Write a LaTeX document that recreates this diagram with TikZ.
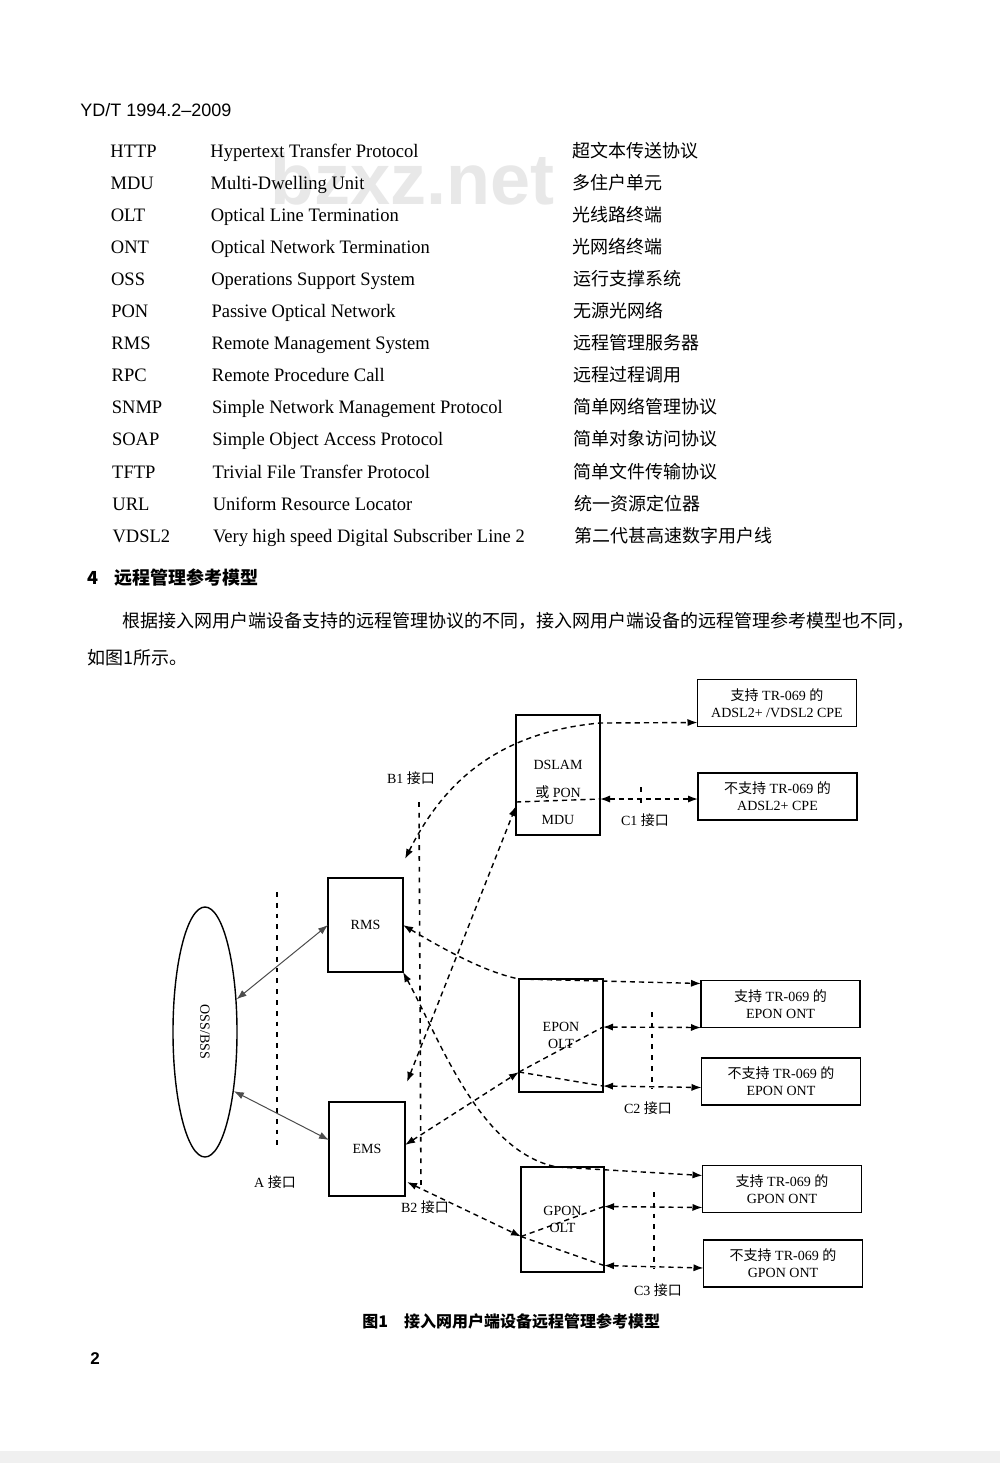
\documentclass[tikz,border=0pt]{standalone}
\usepackage{fontspec}
\setmainfont{Liberation Serif}
\newfontfamily\cjk{Noto Sans CJK SC}
\newfontfamily\hdrfont{Liberation Sans}
\newfontfamily\tabfont[FakeStretch=0.975]{Liberation Serif}
\usetikzlibrary{arrows.meta,shapes.geometric,calc}

\tikzset{
  box/.style={draw,line width=0.7pt,inner sep=0pt,outer sep=0pt,align=center,font=\fontsize{7}{8.5}\selectfont},
  cpebox/.style={box,minimum width=79.5pt,minimum height=23.5pt},
  lbl/.style={font=\fontsize{7}{8.5}\selectfont,inner sep=0pt},
  conn/.style={line width=0.7pt,dash pattern=on 2.6pt off 2pt},
  iface/.style={line width=0.8pt,dash pattern=on 2.4pt off 3pt},
  aline/.style={line width=0.5pt,black!70},
  tabtxt/.style={anchor=base west,inner sep=0pt,font=\tabfont\fontsize{9.5}{11}\selectfont},
  tabzh/.style={anchor=base west,inner sep=0pt,font=\cjk\fontsize{9}{11}\selectfont},
  cjktxt/.style={anchor=base west,inner sep=0pt,font=\cjk\fontsize{9}{11}\selectfont}
}

\begin{document}
\begin{tikzpicture}[x=0.5pt,y=-0.5pt,>={Latex[length=5pt,width=3.6pt]}]
  \useasboundingbox (0,0) rectangle (1000,1463);
  \fill[white] (0,0) rectangle (1000,1463);
  \fill[black!6] (0,1451) rectangle (1000,1463);
  % watermark and page text
  \node[anchor=base west,inner sep=0pt,text=black!9,font=\hdrfont\bfseries\fontsize{36}{40}\selectfont] (wm) at (270,204) {bzxz.net};
  \node[anchor=base west,inner sep=0pt,font=\hdrfont\fontsize{9}{11}\selectfont] (hdr) at (80,116) {YD/T 1994.2–2009};
  \foreach \ab/\en/\zh [count=\i from 0] in {
    HTTP/Hypertext Transfer Protocol/超文本传送协议,
    MDU/Multi-Dwelling Unit/多住户单元,
    OLT/Optical Line Termination/光线路终端,
    ONT/Optical Network Termination/光网络终端,
    OSS/Operations Support System/运行支撑系统,
    PON/Passive Optical Network/无源光网络,
    RMS/Remote Management System/远程管理服务器,
    RPC/Remote Procedure Call/远程过程调用,
    SNMP/Simple Network Management Protocol/简单网络管理协议,
    SOAP/Simple Object Access Protocol/简单对象访问协议,
    TFTP/Trivial File Transfer Protocol/简单文件传输协议,
    URL/Uniform Resource Locator/统一资源定位器,
    VDSL2/Very high speed Digital Subscriber Line 2/第二代甚高速数字用户线}{
    \node[tabtxt] (ab\i) at (110+0.18*\i,157+32.1*\i) {\ab};
    \node[tabtxt] (en\i) at (210+0.22*\i,157+32.1*\i) {\en};
    \node[tabzh] (zh\i) at (572+0.15*\i,157+32.1*\i) {\zh};
  }
  \node[cjktxt,font=\cjk\bfseries\fontsize{9}{11}\selectfont] (sec) at (87,584) {4\hspace{8pt}远程管理参考模型};
  \node[cjktxt] (par1) at (122,627) {根据接入网用户端设备支持的远程管理协议的不同，接入网用户端设备的远程管理参考模型也不同，};
  \node[cjktxt] (par2) at (87,664) {如图1所示。};

  % boxes
  \node[draw,ellipse,line width=0.7pt,minimum width=32pt,minimum height=125pt,inner sep=0pt] (oss) at (205,1032) {};
  \node[lbl,rotate=-90] (osst) at (oss) {OSS/BSS};
  \node[box,minimum width=37.5pt,minimum height=47pt] (rms) at (365.5,925) {RMS};
  \node[box,minimum width=38pt,minimum height=47pt] (ems) at (367,1149) {EMS};
  \node[box,minimum width=42pt,minimum height=60pt] (dslam) at (558,775) {};
  \node[lbl] (dslam1) at (558,765) {DSLAM};
  \node[lbl] (dslam2) at (558,792) {{\cjk 或} PON};
  \node[lbl] (dslam3) at (558,820) {MDU};
  \node[box,minimum width=42pt,minimum height=56.5pt] (epon) at (561,1035.5) {EPON\\OLT};
  \node[box,minimum width=41.5pt,minimum height=52.5pt] (gpon) at (562.5,1219.5) {GPON\\OLT};
  \node[cpebox] (cpe1) at (777,703) {{\cjk 支持} TR-069 {\cjk 的}\\ADSL2+ /VDSL2 CPE};
  \node[cpebox] (cpe2) at (777.5,796.5) {{\cjk 不支持} TR-069 {\cjk 的}\\ADSL2+ CPE};
  \node[cpebox] (eont1) at (780.5,1004) {{\cjk 支持} TR-069 {\cjk 的}\\EPON ONT};
  \node[cpebox] (eont2) at (781,1081.5) {{\cjk 不支持} TR-069 {\cjk 的}\\EPON ONT};
  \node[cpebox] (gont1) at (782,1189) {{\cjk 支持} TR-069 {\cjk 的}\\GPON ONT};
  \node[cpebox] (gont2) at (783,1263.5) {{\cjk 不支持} TR-069 {\cjk 的}\\GPON ONT};

  % interface labels and lines
  \node[lbl] (ifA) at (275,1182) {A {\cjk 接口}};
  \node[lbl] (ifB1) at (411,778) {B1 {\cjk 接口}};
  \node[lbl] (ifB2) at (425,1207) {B2 {\cjk 接口}};
  \node[lbl] (ifC1) at (645,820) {C1 {\cjk 接口}};
  \node[lbl] (ifC2) at (648,1108) {C2 {\cjk 接口}};
  \node[lbl] (ifC3) at (658,1290) {C3 {\cjk 接口}};
  \draw[iface] (277,892) -- (277,1146);
  \draw[iface] (419,802) -- (421,1190);
  \draw[iface] (641,787) -- (641,808);
  \draw[iface] (652,1012) -- (652,1088);
  \draw[iface] (654,1192) -- (654,1268);

  % A interface
  \draw[aline,<->] (oss.46) -- (rms.west);
  \draw[aline,<->] (oss.-64) -- ($(ems.west)+(0,-9)$);

  % RMS links
  \coordinate (rmsTop) at ($(rms.north east)+(2,-19)$);
  \draw[conn,<->] (rmsTop) .. controls (440,790) and (490,733) .. ($(dslam.north east)+(0,8)$) -- ($(cpe1.south west)+(0,-4)$);
  \draw[conn,<->] (rms.east) .. controls (445,950) and (485,972) .. (epon.north west) -- ($(eont1.north west)+(0,3)$);
  \draw[conn,<->] (rms.south east) .. controls (440,1040) and (480,1152) .. ($(gpon.north west)+(36,0)$) -- ($(gont1.north west)+(0,10)$);

  % EMS links
  \coordinate (dslamIn) at ($(dslam.west)+(0,27)$);
  \coordinate (dslamOut) at ($(dslam.east)+(0,24)$);
  \draw[conn,<->] ($(ems.north east)+(2,-20)$) -- ($(dslam.west)+(0,31)$);
  \draw[conn] (dslamIn) -- (dslamOut);
  \draw[conn,<->] (dslamOut) -- ($(cpe2.west)+(0,2.5)$);

  \coordinate (eponIn) at ($(epon.west)+(0,36.5)$);
  \coordinate (eponOutA) at ($(epon.east)+(0,-8.5)$);
  \coordinate (eponOutB) at ($(epon.east)+(0,50.5)$);
  \draw[conn,<->] ($(ems.east)+(0,-4)$) -- (eponIn);
  \draw[conn] (eponIn) -- (eponOutA);
  \draw[conn] (eponIn) -- (eponOutB);
  \draw[conn,<->] (eponOutA) -- (eont1.south west);
  \draw[conn,<->] (eponOutB) -- ($(eont2.west)+(0,6)$);

  \coordinate (gponIn) at ($(gpon.west)+(0,17)$);
  \coordinate (gponOutA) at ($(gpon.east)+(0,-13)$);
  \coordinate (gponOutB) at ($(gpon.east)+(0,46)$);
  \draw[conn,<->] ($(ems.south east)+(2,-14)$) -- (gponIn);
  \draw[conn] (gponIn) -- (gponOutA);
  \draw[conn] (gponIn) -- (gponOutB);
  \draw[conn,<->] (gponOutA) -- ($(gont1.south west)+(0,-5)$);
  \draw[conn,<->] (gponOutB) -- ($(gont2.west)+(0,4.5)$);

  % caption and page number
  \node[cjktxt,font=\cjk\bfseries\fontsize{8}{10}\selectfont] (cap) at (362,1327) {图1\quad 接入网用户端设备远程管理参考模型};
  \node[anchor=base west,inner sep=0pt,font=\hdrfont\bfseries\fontsize{8.5}{10}\selectfont] (pg) at (90,1364) {2};
\end{tikzpicture}
\end{document}
